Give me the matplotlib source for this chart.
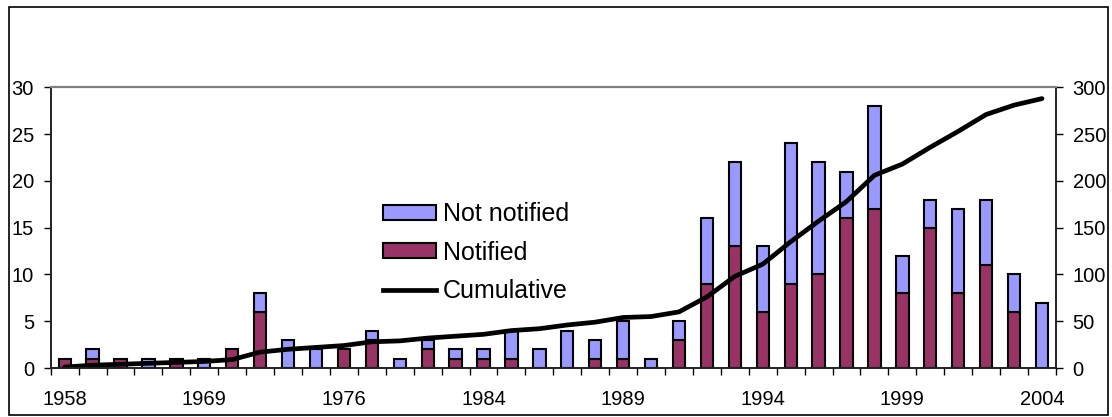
import numpy as np
import matplotlib.pyplot as plt
from matplotlib.patches import Rectangle
from matplotlib.lines import Line2D

plt.rcParams['font.family'] = ['Liberation Sans', 'DejaVu Sans']

# one category per bar, labels shown every fifth category
tick_labels = ["1958", "1969", "1976", "1984", "1989", "1994", "1999", "2004"]
notified = [1, 1, 1, 0, 1, 0, 2, 6, 0, 0, 2, 3, 0, 2, 1, 1, 1, 0,
            0, 1, 1, 0, 3, 9, 13, 6, 9, 10, 16, 17, 8, 15, 8, 11, 6, 0]
not_notified = [0, 1, 0, 1, 0, 1, 0, 2, 3, 2, 0, 1, 1, 1, 1, 1, 3, 2,
                4, 2, 4, 1, 2, 7, 9, 7, 15, 12, 5, 11, 4, 3, 9, 7, 4, 7]
cumulative = [1, 3, 4, 5, 6, 7, 9, 17, 20, 22, 24, 28, 29, 32, 34, 36, 40, 42,
              46, 49, 54, 55, 60, 76, 98, 111, 135, 157, 178, 206, 218, 236, 253, 271, 281, 288]

blue = "#9999FF"
purple = "#993366"

fig = plt.figure(figsize=(11.12, 4.17), dpi=100)
ax = fig.add_axes([0.0456, 0.1175, 0.904, 0.673])
ax2 = ax.twinx()

x = np.arange(len(notified))
w = 0.44
b1 = ax.bar(x, notified, w, color=purple, edgecolor="black", linewidth=1.5, zorder=2)
b2 = ax.bar(x, not_notified, w, bottom=notified, color=blue, edgecolor="black",
            linewidth=1.5, zorder=2)
for p in list(b1) + list(b2):
    if p.get_height() == 0:
        p.set_visible(False)

ax2.plot(x, cumulative, color="black", linewidth=3.4, solid_capstyle="round")

ax.set_xlim(-0.5, len(x) - 0.5)
ax.set_ylim(0, 30)
ax2.set_ylim(0, 300)
ax.set_yticks(np.arange(0, 31, 5))
ax2.set_yticks(np.arange(0, 301, 50))

ax.set_xticks(x[::5])
ax.set_xticklabels(tick_labels)
ax.set_xticks(np.arange(-0.5, len(x), 1), minor=True)
ax.tick_params(axis="x", which="major", length=0, pad=16, labelsize=14.5)
ax.tick_params(axis="x", which="minor", length=5, width=1)
ax.tick_params(axis="y", length=5, width=1, labelsize=14.5, pad=7)
ax2.tick_params(axis="y", length=5, width=1, labelsize=14.5, pad=7)

for a in (ax, ax2):
    a.spines["top"].set_color("#808080")
    a.spines["top"].set_linewidth(1.5)
    for s in ("left", "right", "bottom"):
        a.spines[s].set_color("#222222")
        a.spines[s].set_linewidth(1.2)

handles = [
    Rectangle((0, 0), 1, 1, facecolor=blue, edgecolor="black", linewidth=1.5),
    Rectangle((0, 0), 1, 1, facecolor=purple, edgecolor="black", linewidth=1.5),
    Line2D([], [], color="black", linewidth=3.4),
]
fig.legend(handles, ["Not notified", "Notified", "Cumulative"],
           loc="upper left", bbox_to_anchor=(383 / 1112, 1 - 202 / 417),
           frameon=False, fontsize=18, handlelength=2.1, handleheight=0.55,
           handletextpad=0.3, labelspacing=0.58, borderpad=0, borderaxespad=0)

# outer chart border
fig.patches.append(Rectangle((9 / 1112, 2 / 417), 1099 / 1112, 408 / 417,
                             transform=fig.transFigure, fill=False,
                             edgecolor="black", linewidth=1.2))

plt.savefig("out.png", dpi=100)
